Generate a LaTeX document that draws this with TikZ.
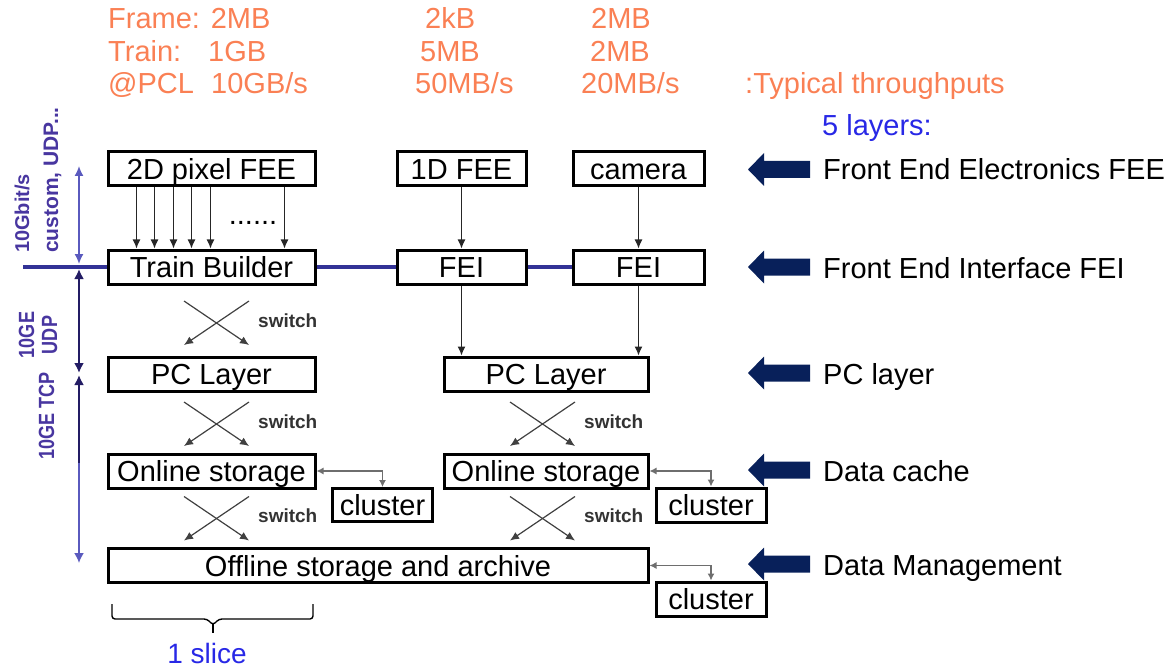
\documentclass[tikz,border=0pt]{standalone}
\usepackage{fontspec}
\setmainfont{Liberation Sans}
\usetikzlibrary{arrows.meta}

\definecolor{ratecol}{RGB}{250,128,84}
\definecolor{layerblue}{RGB}{40,40,230}
\definecolor{linkpurple}{RGB}{72,54,160}
\definecolor{buscol}{RGB}{50,50,150}
\definecolor{linklight}{RGB}{90,90,190}
\definecolor{linkdark}{RGB}{35,28,100}
\definecolor{navyarrow}{RGB}{8,32,90}
\definecolor{conngray}{RGB}{110,110,110}

\newcommand\fsz[1]{\fontsize{#1}{#1}\selectfont}
\newcommand\narrow[1]{\scalebox{0.82}[1]{#1}}

\begin{document}
\begin{tikzpicture}[x=1pt,y=-1pt,
  box/.style={draw=black, line width=3pt, minimum height=34pt, inner sep=0pt,
              font=\fsz{29}, text height=21pt, text depth=0pt},
  arr/.style={draw=black!85, line width=1.2pt, -{Latex[length=9pt,width=8pt]}},
  sw/.style={draw=black!75, line width=1.2pt, -{Latex[length=9pt,width=8pt]}},
  swlabel/.style={font=\bfseries\fsz{19}, text=black!80, inner sep=0pt},
  gconn/.style={draw=conngray, line width=1.2pt, {Latex[length=7pt,width=7pt]}-{Latex[length=7pt,width=7pt]}},
  rate/.style={font=\fsz{29}, text=ratecol, inner sep=0pt, anchor=base west},
  layerlbl/.style={font=\fsz{29}, text=black, inner sep=0pt, anchor=base west},
  linklbl/.style={font=\bfseries\fsz{22}, text=linkpurple, inner sep=0pt, rotate=90},
  bus/.style={draw=buscol, line width=4pt},
  xswitch/.pic={
    \draw[sw] (-32.5,-22) -- (32.5,22);
    \draw[sw] (32.5,-22) -- (-32.5,22);
    \node[swlabel, anchor=west] at (41.5,-2.5) {switch};
  },
  layerarrow/.pic={
    \fill[navyarrow] (0,0) -- (16,-16.5) -- (16,-8.5) -- (62,-8.5)
      -- (62,8.5) -- (16,8.5) -- (16,16.5) -- cycle;
  }]

\useasboundingbox (0,0) rectangle (1174,668);

% typical data sizes and rates
\node[rate] at (108,29) {Frame: 2MB};
\node[rate] at (108,62) {Train:};
\node[rate] at (208,62) {1GB};
\node[rate] at (108,94) {@PCL};
\node[rate] at (211,94) {10GB/s};
\node[rate] at (425,29) {2kB};
\node[rate] at (420,62) {5MB};
\node[rate] at (415,94) {50MB/s};
\node[rate] at (591,29) {2MB};
\node[rate] at (590,62) {2MB};
\node[rate] at (581,94) {20MB/s};
\node[rate] at (745,94) {:Typical throughputs};

\node[font=\fsz{29}, text=layerblue, inner sep=0pt, anchor=base west] at (822,136) {5 layers:};

% boxes
\node[box, minimum width=207pt] (pix) at (211.5,169) {2D pixel FEE};
\node[box, minimum width=129pt] (fee1) at (461.5,169) {1D FEE};
\node[box, minimum width=131pt] (cam) at (638.5,169) {camera};
\node[box, minimum width=207pt] (tb) at (211.5,267) {Train Builder};
\node[box, minimum width=129pt] (fei1) at (461.5,267) {FEI};
\node[box, minimum width=131pt] (fei2) at (638.5,267) {FEI};
\node[box, minimum width=207pt] (pc1) at (211.5,374) {PC Layer};
\node[box, minimum width=204pt] (pc2) at (546,374) {PC Layer};
\node[box, minimum width=207pt] (on1) at (211.5,471) {Online storage};
\node[box, minimum width=204pt] (on2) at (546,471) {Online storage};
\node[box, minimum width=100pt, minimum height=33pt] (cl1) at (382.5,505) {cluster};
\node[box, minimum width=110pt] (cl2) at (711,505) {cluster};
\node[box, minimum width=540pt] (off) at (378,565.5) {Offline storage and archive};
\node[box, minimum width=110pt] (cl3) at (711,599) {cluster};

% pixel detector links into the train builder
\foreach \s in {30,48,67,85,104,178}
  \draw[arr] ([xshift=\s]pix.south west) -- ([xshift=\s]tb.north west);
\node[font=\fsz{29}, inner sep=0pt, anchor=base] (dots) at (253,225) {......};

\draw[arr] (fee1) -- (fei1);
\draw[arr] (cam) -- (fei2);
\draw[arr] (fei1.south) -- (fei1.south |- pc2.north);
\draw[arr] (fei2.south) -- (fei2.south |- pc2.north);

% 10 Gbit/s bus through the interface layer
\coordinate (busL) at (23,267);
\draw[bus] (busL) -- (tb.west);
\draw[bus] (tb.east) -- (fei1.west);
\draw[bus] (fei1.east) -- (fei2.west);

% switches between layers
\pic at (216.5,323) {xswitch};
\pic at (216.5,424) {xswitch};
\pic at (542.5,424) {xswitch};
\pic at (216.5,518.5) {xswitch};
\pic at (542.5,518.5) {xswitch};

% cluster connections
\draw[gconn] (on1.east) -| (cl1.north);
\draw[gconn] (on2.east) -| (cl2.north);
\draw[gconn] (off.east) -| (cl3.north);

% link ranges along the left edge
\coordinate (lA) at (79,166);
\coordinate (lB) at (79,264);
\coordinate (lC) at (79,269);
\coordinate (lD) at (79,373);
\coordinate (lE) at (79,375);
\coordinate (lF) at (79,463);
\coordinate (lG) at (79,563);
\draw[draw=linklight, line width=1.6pt, {Latex[length=10pt,width=9pt]}-{Latex[length=10pt,width=9pt]}] (lA) -- (lB);
\draw[draw=linkdark, line width=2.4pt, {Latex[length=10pt,width=10pt]}-{Latex[length=10pt,width=10pt]}] (lC) -- (lD);
\draw[draw=linklight, line width=1.8pt, -{Latex[length=10pt,width=10pt]}] (lF) -- (lG);
\draw[draw=linkdark, line width=2.4pt, {Latex[length=10pt,width=10pt]}-] (lE) -- (lF);

\node[linklbl, anchor=base west, font=\bfseries\fsz{20}] at (29,253) {10Gbit/s};
\node[linklbl, anchor=base west, font=\bfseries\fsz{21}] at (58,253) {custom, UDP...};
\node[linklbl, anchor=base] at (34,335) {\narrow{10GE}};
\node[linklbl, anchor=base] at (57,335) {\narrow{UDP}};
\node[linklbl, anchor=base] at (54,416) {\narrow{10GE TCP}};

% layer names
\pic at (748,169.5) {layerarrow};
\pic at (748,267) {layerarrow};
\pic at (748,373) {layerarrow};
\pic at (748,470) {layerarrow};
\pic at (748,564) {layerarrow};
\node[layerlbl] at (823,180) {Front End Electronics FEE};
\node[layerlbl] at (823,278) {Front End Interface FEI};
\node[layerlbl] at (823,384) {PC layer};
\node[layerlbl] at (823,481) {Data cache};
\node[layerlbl] at (823,575) {Data Management};

% one slice
\draw[line width=1.4pt, rounded corners=3pt]
  (112,604) -- (112,619) -- (207,619) -- (213,625) -- (219,619) -- (313,619) -- (313,604);
\draw[line width=1.4pt] (213,623) -- (213,633);
\node[font=\fsz{28}, text=layerblue, inner sep=0pt, anchor=base] at (207,663) {1 slice};

\end{tikzpicture}
\end{document}
